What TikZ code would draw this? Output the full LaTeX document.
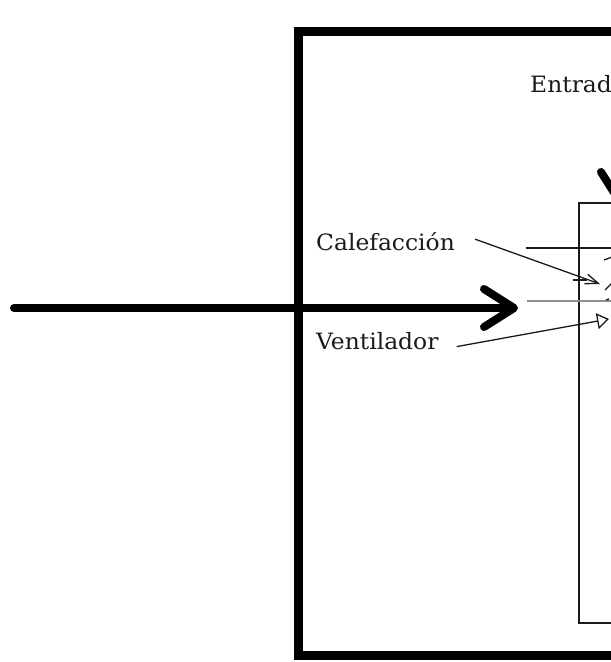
\documentclass[tikz,border=0pt]{standalone}
\usepackage{fontspec}
\setmainfont[FakeStretch=1.04]{DejaVu Serif}
\usepackage{xcolor}
\usetikzlibrary{arrows.meta,positioning}
\definecolor{ink}{HTML}{1A1A1A}
\definecolor{rulegrey}{HTML}{8E8E8E}
\tikzset{
  outerframe/.style={draw=black, line width=9pt},
  innerbox/.style={draw=ink, line width=1.5pt},
  thinline/.style={draw=ink, line width=1.3pt},
  greyline/.style={draw=rulegrey, line width=2.6pt},
  bigarrow/.style={-{Straight Barb[length=30pt, width=38pt, round]}, line width=8pt, line cap=round, black},
  sigarrow/.style={-{Straight Barb[length=13pt, width=10pt]}, thinline},
  fanarrow/.style={-{Triangle[open, length=12pt, width=16pt]}, thinline},
  lbl/.style={font=\fontsize{22.5}{26}\selectfont, text=ink, anchor=base west, inner sep=0pt},
}

\begin{document}
\begin{tikzpicture}[x=1pt, y=-1pt]
  \useasboundingbox (0,0) rectangle (611,662);
  \clip (0,0) rectangle (611,662);
  % outer frame and inner box, both run off to the right
  \draw[outerframe] (660,31) -- (298,31) -- (298,655) -- (660,655);
  \draw[innerbox] (660,203) -- (579,203) -- (579,623) -- (660,623);
  \draw[thinline] (526,248) -- (660,248);
  \draw[greyline] (527,301) -- (660,301);
  \draw[thinline] (573,280) -- (587,280);
  % labels
  \node[lbl] (entrada) at (530,92) {Entrada};
  \node[lbl] (calef) at (316,250) {Calefacción};
  \node[lbl] (vent) at (316,349) {Ventilador};
  \coordinate (srcleft) at (14,308);
  \coordinate (boxin) at (518,308);
  \coordinate (entradatop) at (620,118);
  \coordinate (boxtop) at (620,206);
  \coordinate (calefin) at (600,284);
  \coordinate (ventin) at (609,319);
  % connectors
  \draw[bigarrow] (srcleft) -- (boxin);
  \draw[bigarrow] (entradatop) -- (boxtop);
  \draw[sigarrow] ([xshift=20pt, yshift=2pt]calef.east) -- (calefin);
  \draw[fanarrow] ([xshift=18pt, yshift=-6pt]vent.east) -- (ventin);
  % bits cut off at the right edge
  \draw[thinline] (604,260) -- (612,257);
  \draw[thinline] (612,283) -- (605,290);
  \draw[thinline] (606,300) -- (609,299);
\end{tikzpicture}
\end{document}
